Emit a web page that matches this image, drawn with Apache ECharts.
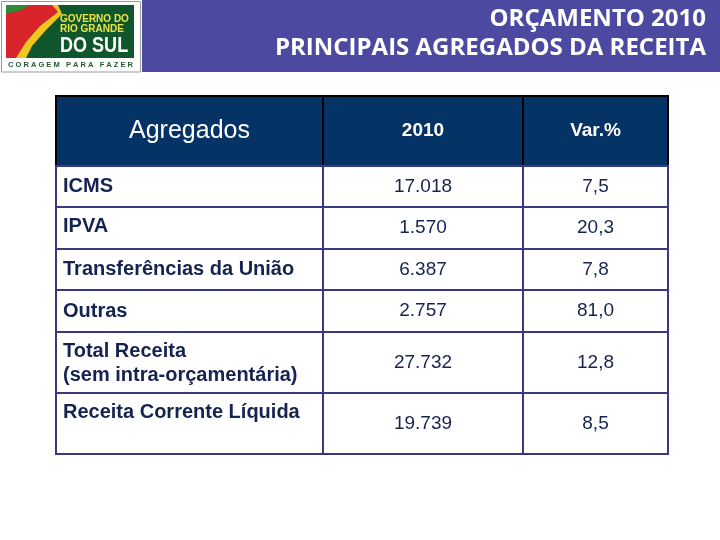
<!DOCTYPE html>
<html>
<head>
<meta charset="utf-8">
<script src="https://cdn.jsdelivr.net/npm/echarts@6/dist/echarts.min.js"></script>
<style>html,body{margin:0;padding:0;background:#fff}#c{width:720px;height:540px}</style>
</head>
<body>
<div id="c"></div>
<script>
// ---- data ----
const headers = ['Agregados', '2010', 'Var.%'];
const categories = ['ICMS', 'IPVA', 'Transferências da União', 'Outras', 'Total Receita\n(sem intra-orçamentária)', 'Receita Corrente Líquida'];
const values2010 = [17018, 1570, 6387, 2757, 27732, 19739];
const variation = [7.5, 20.3, 7.8, 81.0, 12.8, 8.5];
const titleLines = ['ORÇAMENTO 2010', 'PRINCIPAIS AGREGADOS DA RECEITA'];

// ---- layout (not data) ----
const COL_W = [267, 200, 145];
const ROW_H = [70, 41, 42, 41, 42, 61, 61];
const LABEL_VALIGN = ['middle', 'top', 'middle', 'middle', 'top', 'top'];

const colEdge = i => COL_W.slice(0, i).reduce((a, b) => a + b, 0);
const rowEdge = i => ROW_H.slice(0, i).reduce((a, b) => a + b, 0);
const fmtThousands = n => String(n).replace(/\B(?=(\d{3})+(?!\d))/g, '.');
const fmtPct = v => v.toFixed(1).replace('.', ',');

const cells = [];
for (let r = 0; r <= categories.length; r++) {
  for (let c = 0; c < headers.length; c++) cells.push([c, r]);
}

const FONT = '"Liberation Sans", Arial, sans-serif';
const TXT = '#14234f';

function renderItem(params, api) {
  const c = api.value(0), r = api.value(1);
  const p0 = api.coord([colEdge(c), rowEdge(r)]);
  const p1 = api.coord([colEdge(c + 1), rowEdge(r + 1)]);
  const x = p0[0], y = p0[1], w = p1[0] - p0[0], h = p1[1] - p0[1];
  const isHead = r === 0;
  const rect = {
    type: 'rect',
    shape: { x: x, y: y, width: w, height: h },
    style: { fill: isHead ? '#063366' : '#ffffff', stroke: isHead ? '#000000' : '#3a3784', lineWidth: 2 }
  };
  let text;
  if (isHead) {
    text = {
      type: 'text', x: x + w / 2, y: y + h / 2,
      style: { text: headers[c], fill: '#ffffff', align: 'center', verticalAlign: 'middle',
        font: (c === 0 ? 'normal 25px ' : 'bold 19px ') + FONT }
    };
  } else if (c === 0) {
    const va = LABEL_VALIGN[r - 1];
    text = {
      type: 'text', x: x + 7, y: va === 'top' ? y + 7 : y + h / 2,
      style: { text: categories[r - 1], fill: TXT, align: 'left', verticalAlign: va,
        lineHeight: 24, font: 'bold 20px ' + FONT }
    };
  } else {
    const t = c === 1 ? fmtThousands(values2010[r - 1]) : fmtPct(variation[r - 1]);
    text = {
      type: 'text', x: x + w / 2, y: y + h / 2,
      style: { text: t, fill: TXT, align: 'center', verticalAlign: 'middle', font: 'normal 19px ' + FONT }
    };
  }
  return { type: 'group', children: [rect, text] };
}

const chart = echarts.init(document.getElementById('c'), null, { renderer: 'canvas' });
chart.setOption({
  animation: false,
  grid: { left: 56, top: 96, width: colEdge(COL_W.length), height: rowEdge(ROW_H.length) },
  xAxis: { type: 'value', min: 0, max: colEdge(COL_W.length), show: false },
  yAxis: { type: 'value', min: 0, max: rowEdge(ROW_H.length), inverse: true, show: false },
  series: [{ type: 'custom', renderItem: renderItem, data: cells, clip: false }],
  graphic: [
    { type: 'rect', shape: { x: 142, y: 0, width: 578, height: 72 }, style: { fill: '#4b49a0' } },
    { type: 'text', x: 706, y: 19, style: { text: titleLines[0], fill: '#fff', align: 'right', verticalAlign: 'middle', font: 'bold 24px "Open Sans", sans-serif' } },
    { type: 'text', x: 706, y: 48, style: { text: titleLines[1], fill: '#fff', align: 'right', verticalAlign: 'middle', font: 'bold 24px "Open Sans", sans-serif' } },
    // logo
    { type: 'rect', shape: { x: 1.5, y: 1.5, width: 139, height: 70.5 }, style: { fill: '#fff', stroke: '#9a9a9a', lineWidth: 1 } },
    { type: 'rect', shape: { x: 6, y: 5, width: 128, height: 53 }, style: { fill: '#10562c' } },
    { type: 'polygon', shape: { points: [[6, 5], [30, 5], [22, 10], [6, 14]] }, style: { fill: '#2f8a3a' } },
    { type: 'polygon', shape: { points: [[6, 14], [22, 10], [30, 5], [52, 5], [58, 12], [40, 26], [26, 42], [16, 58], [6, 58]] }, style: { fill: '#d8242a' } },
    { type: 'polygon', shape: { points: [[52, 5], [58, 5], [62, 14], [46, 30], [32, 46], [26, 58], [16, 58], [26, 42], [40, 26], [58, 12]] }, style: { fill: '#f2c61f' } },
    { type: 'text', x: 60, y: 14, style: { text: 'GOVERNO DO', fill: '#e8e34a', font: 'bold 10px ' + FONT } },
    { type: 'text', x: 60, y: 24, style: { text: 'RIO GRANDE', fill: '#e8e34a', font: 'bold 10px ' + FONT } },
    { type: 'text', x: 60, y: 35, scaleX: 0.82, style: { text: 'DO SUL', fill: '#ffffff', font: 'bold 22px ' + FONT } },
    { type: 'text', x: 8, y: 61, style: { text: 'C O R A G E M   P A R A   F A Z E R', fill: '#245a32', font: 'bold 7.5px ' + FONT } }
  ]
});
</script>
</body>
</html>
